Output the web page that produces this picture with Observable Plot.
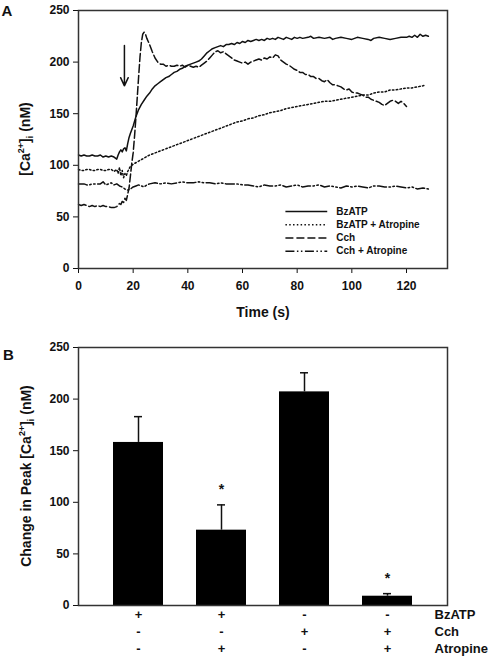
<!DOCTYPE html>
<html>
<head>
<meta charset="utf-8">
<script src="https://cdn.jsdelivr.net/npm/d3@7"></script>
<script src="https://cdn.jsdelivr.net/npm/@observablehq/plot@0.6"></script>
<style>
  html, body { margin: 0; padding: 0; background: white; }
  #wrap { width: 492px; }
</style>
</head>
<body>
<div id="wrap"></div>
<script>
// ---------- Panel A data ----------
const timeTicks = [0, 20, 40, 60, 80, 100, 120];
const caTicks = [0, 50, 100, 150, 200, 250];

const bzatp = [[0,110],[1,109],[2,110],[3,109],[4,109],[5,110],[6,109],[7,109],[8,110],[9,108],[10,109],[11,108],[12,109],[13,108],[14,106],[14.5,110],[15,113],[15.5,115],[16,113],[16.5,116],[17,117],[17.5,114],[18,121],[18.5,127],[19,131],[20,138],[21,147],[22,154],[23,159],[24,163],[25,167],[26,170],[27,174],[28,177],[29,179],[30,181],[31,183],[32,185],[33,186],[34,188],[35,190],[36,191],[37,193],[38,194],[39,196],[40,197],[41,198],[42,199],[43,200],[44,201],[45,203],[46,206],[47,209],[48,211],[49,213],[50,214],[51,215],[52,216],[53,215],[54,217],[55,217],[56,218],[57,217],[58,219],[59,218],[60,220],[61,219],[62,221],[63,220],[64,221],[65,222],[66,221],[67,222],[68,221],[69,223],[70,222],[71,223],[72,222],[73,224],[74,223],[75,222],[76,224],[77,223],[78,222],[79,224],[80,223],[81,224],[82,223],[84,224],[85,225],[86,223],[88,224],[90,223],[92,224],[93,222],[94,223],[96,224],[98,223],[100,222],[102,224],[104,223],[106,222],[107,221],[108,223],[110,224],[112,223],[114,222],[116,223],[118,224],[120,224],[121,225],[122,224],[123,226],[124,224],[125,227],[126,225],[127,226],[128,225]];

const bzatpAtropine = [[0,96],[1,95],[2,95],[3,96],[4,96],[5,95],[6,95],[7,96],[8,96],[9,95],[10,95],[11,96],[12,96],[13,94],[14,96],[14.5,92],[15,98],[15.5,90],[16,95],[16.5,88],[17,92],[17.5,90],[18,94],[19,99],[20,101],[22,104],[24,107],[26,110],[28,112],[30,114],[32,116],[34,118],[36,120],[38,122],[40,124],[42,126],[44,128],[46,130],[48,132],[50,134],[52,136],[54,138],[56,140],[58,142],[60,143],[62,145],[64,146],[66,148],[68,149],[70,151],[72,152],[74,153],[76,155],[78,156],[80,157],[82,158],[84,159],[86,160],[88,161],[90,162],[92,162],[94,163],[96,164],[98,165],[100,166],[102,167],[104,168],[106,168],[108,170],[110,171],[112,171],[114,173],[116,173],[118,174],[120,175],[122,175],[124,176],[126,177],[127,178]];

const cch = [[0,62],[1,61],[2,62],[3,61],[4,60],[5,61],[6,60],[7,61],[8,60],[9,61],[10,60],[11,60],[12,59],[13,59],[14,60],[15,63],[15.5,62],[16,65],[16.5,64],[17,68],[17.5,66],[18,72],[18.5,78],[19,90],[19.5,102],[20,112],[20.5,128],[21,146],[21.5,166],[22,186],[22.5,205],[23,219],[23.5,227],[24,229],[24.5,227],[25,223],[26,217],[27,210],[28,204],[29,200],[30,198],[31,198],[32,196],[33,197],[34,196],[35,196],[36,197],[37,196],[38,197],[39,195],[40,197],[41,196],[42,195],[43,196],[44,195],[45,197],[46,199],[47,201],[48,204],[49,207],[50,210],[51,211],[52,209],[53,210],[54,208],[55,206],[56,204],[57,202],[58,201],[59,200],[60,199],[61,200],[62,198],[63,200],[64,201],[65,202],[66,203],[67,202],[68,204],[69,203],[70,205],[71,204],[72,207],[73,206],[74,202],[75,200],[76,198],[77,197],[78,195],[79,193],[80,192],[81,190],[82,190],[83,188],[84,188],[85,186],[86,186],[87,184],[88,184],[89,182],[90,181],[91,183],[92,180],[93,178],[94,178],[95,177],[96,176],[97,174],[98,173],[99,174],[100,171],[101,170],[102,170],[103,169],[104,168],[105,166],[106,166],[107,164],[108,163],[109,162],[110,161],[111,159],[112,158],[113,160],[114,162],[115,163],[116,162],[117,160],[118,162],[119,160],[120,157]];

const cchAtropine = [[0,82],[1,82],[2,82],[3,81],[4,81],[5,82],[6,82],[7,82],[8,82],[9,84],[10,81],[11,82],[12,83],[13,81],[14,82],[15,80],[16,79],[17,77],[18,76],[19,77],[20,79],[21,80],[22,81],[23,80],[24,79],[25,81],[26,82],[28,83],[30,82],[32,83],[34,82],[36,83],[38,84],[40,83],[42,83],[44,84],[46,83],[48,83],[50,82],[52,83],[54,82],[56,82],[58,82],[60,81],[62,81],[64,80],[66,79],[68,81],[70,80],[72,80],[74,81],[76,79],[78,80],[80,81],[82,79],[84,80],[86,80],[88,81],[90,79],[92,80],[94,79],[96,78],[98,80],[100,79],[102,80],[104,79],[106,78],[108,80],[110,80],[112,79],[114,79],[116,80],[118,79],[120,78],[122,79],[124,77],[126,78],[128,77]];

const seriesNames = ["BzATP", "BzATP + Atropine", "Cch", "Cch + Atropine"];
const seriesData = [bzatp, bzatpAtropine, cch, cchAtropine];

// stimulus arrow (time, from, to)
const stimulus = [{t: 16.8, from: 216, to: 177}];

// ---------- Panel B data ----------
const conditions = ["BzATP", "BzATP + Atropine", "Cch", "Cch + Atropine"];
const peakMean = [158, 73, 207, 9];
const peakSem = [25, 24.5, 18.5, 2.5];
const significance = ["", "*", "", "*"];
const rowNames = ["BzATP", "Cch", "Atropine"];
const rowSigns = [["+", "+", "-", "-"], ["-", "-", "+", "+"], ["-", "+", "-", "+"]];

// ---------- styles ----------
const dashes = [null, "1.5,2.3", "8,3", "9,2.5,1.5,2.5,1.5,2.5"];
const INK = "#111";
const FRAME = "#333";
const baseStyle = "font-family: 'Liberation Sans', Arial, sans-serif; font-size: 12px; font-weight: bold; color: #111; background: white; overflow: visible;";

function addYTitle(svg, cx, cy, prefix) {
  const t = d3.select(svg).append("text")
    .attr("transform", `translate(${cx},${cy}) rotate(-90)`)
    .attr("text-anchor", "middle")
    .attr("dy", "0.35em")
    .attr("fill", INK)
    .style("font-size", "14px")
    .style("font-weight", "bold")
    .style("font-family", "'Liberation Sans', Arial, sans-serif");
  t.append("tspan").text(prefix + "[Ca");
  t.append("tspan").attr("font-size", "9px").attr("dy", "-6").text("2+");
  t.append("tspan").attr("dy", "6").text("]");
  t.append("tspan").attr("font-size", "9px").attr("dy", "3").text("i");
  t.append("tspan").attr("dy", "-3").text(" (nM)");
}

// ---------- Panel A ----------
const marksA = [];
seriesData.forEach((data, i) => {
  marksA.push(Plot.line(data, {
    x: d => d[0], y: d => d[1],
    stroke: INK, strokeWidth: 1.5,
    strokeDasharray: dashes[i] || undefined
  }));
});
// legend (positioned inside plot)
seriesNames.forEach((name, i) => {
  const ly = 55.2 - i * 12.8;
  marksA.push(Plot.link([name], {
    x1: () => 75.7, x2: () => 91.0, y1: () => ly, y2: () => ly,
    stroke: INK, strokeWidth: 1.5, strokeDasharray: dashes[i] || undefined
  }));
  marksA.push(Plot.text([name], {
    x: () => 94.3, y: () => ly, text: d => d,
    textAnchor: "start", fontSize: 10, fill: INK
  }));
});
marksA.push(Plot.arrow(stimulus, {
  x1: "t", x2: "t", y1: "from", y2: "to",
  stroke: INK, strokeWidth: 1.5, headLength: 9, headAngle: 50
}));
marksA.push(Plot.frame({stroke: FRAME, strokeWidth: 1.5}));
marksA.push(Plot.text(["Time (s)"], {frameAnchor: "bottom", dy: 48, lineAnchor: "bottom", fontSize: 14, fill: INK}));
marksA.push(Plot.text(["A"], {frameAnchor: "top-left", dx: -77, dy: 5, lineAnchor: "bottom", textAnchor: "start", fontSize: 15, fill: INK}));

const chartA = Plot.plot({
  width: 492, height: 320,
  marginTop: 10, marginBottom: 52, marginLeft: 78, marginRight: 45,
  style: baseStyle,
  x: {domain: [0, 135], ticks: timeTicks, tickSize: 5, tickPadding: 8, label: null},
  y: {domain: [0, 250], ticks: caTicks, tickSize: 5, tickPadding: 4, label: null},
  marks: marksA
});
addYTitle(chartA, 25, 139, "");

// ---------- Panel B ----------
const bars = conditions.map((c, i) => ({
  id: c, mean: peakMean[i], hi: peakMean[i] + peakSem[i], sig: significance[i]
}));

const marksB = [
  Plot.barY(bars, {x: "id", y: "mean", fill: "black"}),
  Plot.ruleX(bars, {x: "id", y1: "mean", y2: "hi", stroke: INK, strokeWidth: 1.5}),
  Plot.tickY(bars, {x: "id", y: "hi", stroke: INK, strokeWidth: 1.5, insetLeft: 21, insetRight: 21}),
  Plot.text(bars.filter(d => d.sig), {x: "id", y: "hi", text: "sig", dy: -15, fontSize: 14, fill: INK}),
  Plot.frame({stroke: FRAME, strokeWidth: 1.5}),
  Plot.text(["B"], {frameAnchor: "top-left", dx: -75.5, dy: 12, lineAnchor: "bottom", textAnchor: "start", fontSize: 15, fill: INK})
];
rowSigns.forEach((signs, r) => {
  marksB.push(Plot.text(bars, {x: "id", text: (d, i) => signs[i], frameAnchor: "bottom", dy: 13 + r * 17, fontSize: 13, fill: INK}));
  marksB.push(Plot.text([rowNames[r]], {frameAnchor: "bottom-right", dx: -13, dy: 13 + r * 17, textAnchor: "start", fontSize: 13, fill: INK}));
});

const chartB = Plot.plot({
  width: 492, height: 342,
  marginTop: 27, marginBottom: 57, marginLeft: 78, marginRight: 45,
  style: baseStyle,
  x: {domain: conditions, padding: 0.393, axis: null},
  y: {domain: [0, 250], ticks: caTicks, tickSize: 5, tickPadding: 4, label: null},
  marks: marksB
});
addYTitle(chartB, 26, 156, "Change in Peak ");

const wrap = document.getElementById("wrap");
wrap.appendChild(chartA);
wrap.appendChild(chartB);
</script>
</body>
</html>
